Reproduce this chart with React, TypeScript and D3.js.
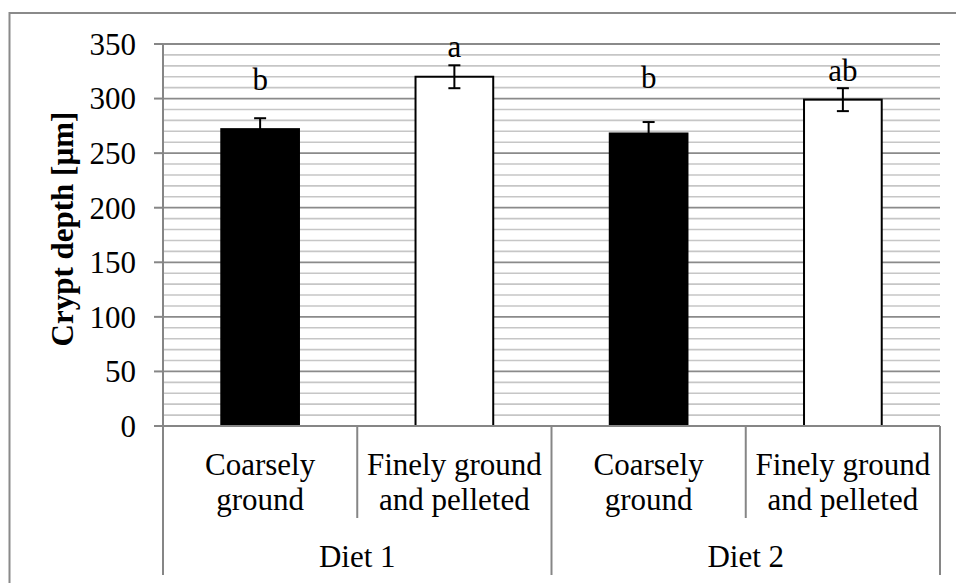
import React from "react";
import * as d3 from "d3";

const groups = ["Diet 1", "Diet 2"];
const treatmentLines = [
  ["Coarsely", "ground"],
  ["Finely ground", "and pelleted"],
  ["Coarsely", "ground"],
  ["Finely ground", "and pelleted"],
];
const categoryKeys = ["d1-coarse", "d1-fine", "d2-coarse", "d2-fine"];
const means = [272, 320, 268, 299];
const errors = [10, 10.5, 10.5, 10.5];
const letters = ["b", "a", "b", "ab"];
const letterValues = [308, 338, 310, 316];
const barFills = ["#000000", "#ffffff", "#000000", "#ffffff"];
const majorTicks = [0, 50, 100, 150, 200, 250, 300, 350];
const minorTicks = d3.range(0, 351, 10);

const W = 956;
const H = 583;
const FONT = '"Times New Roman", "Liberation Serif", Tinos, "DejaVu Serif", serif';
const FS = 31;

export default function App() {
  const left = 163;
  const right = 940;
  const top = 44;
  const bottom = 426;
  const y = d3.scaleLinear().domain([0, 350]).range([bottom, top]);
  const x = d3
    .scaleBand<string>()
    .domain(categoryKeys)
    .range([left, right])
    .paddingInner(0.6)
    .paddingOuter(0.3);
  const step = x.step();
  const gridColor = "#c6c6c6";
  const majorColor = "#8a8a8a";
  const axisColor = "#868686";
  const ts = { fontFamily: FONT, fontSize: FS } as React.CSSProperties;

  return (
    <svg
      width={W}
      height={H}
      style={{ position: "absolute", left: 0, top: 0, background: "#fff" }}
    >
      <rect x={0} y={0} width={W} height={H} fill="#fff" />
      <rect x={9.5} y={13} width={W + 20} height={H + 20} fill="none" stroke="#8a8a8a" strokeWidth={2} />
      {minorTicks
        .filter((t) => t % 50 !== 0)
        .map((t) => (
          <line key={"m" + t} x1={left} x2={right} y1={y(t)} y2={y(t)} stroke={gridColor} strokeWidth={1.6} />
        ))}
      {majorTicks
        .filter((t) => t !== 0)
        .map((t) => (
          <line key={"M" + t} x1={left} x2={right} y1={y(t)} y2={y(t)} stroke={majorColor} strokeWidth={1.8} />
        ))}
      <line x1={left} x2={left} y1={top} y2={bottom} stroke={axisColor} strokeWidth={2} />
      {majorTicks.map((t) => (
        <g key={"t" + t}>
          <line x1={left - 9} x2={left} y1={y(t)} y2={y(t)} stroke={axisColor} strokeWidth={2} />
          <text x={136} y={y(t)} dy="0.35em" textAnchor="end" style={ts} fill="#000">
            {t}
          </text>
        </g>
      ))}
      {categoryKeys.map((k, i) => {
        const bx = x(k) as number;
        const bw = x.bandwidth();
        const cx = bx + bw / 2;
        return (
          <g key={k}>
            <rect
              x={bx}
              y={y(means[i])}
              width={bw}
              height={y(0) - y(means[i])}
              fill={barFills[i]}
              stroke="#000"
              strokeWidth={2}
            />
            <line x1={cx} x2={cx} y1={y(means[i] + errors[i])} y2={y(means[i] - errors[i])} stroke="#000" strokeWidth={2} />
            <line x1={cx - 6} x2={cx + 6} y1={y(means[i] + errors[i])} y2={y(means[i] + errors[i])} stroke="#000" strokeWidth={2} />
            <line x1={cx - 6} x2={cx + 6} y1={y(means[i] - errors[i])} y2={y(means[i] - errors[i])} stroke="#000" strokeWidth={2} />
            <text x={cx} y={y(letterValues[i])} textAnchor="middle" style={ts} fill="#000">
              {letters[i]}
            </text>
          </g>
        );
      })}
      <line x1={left - 9} x2={right} y1={bottom} y2={bottom} stroke={axisColor} strokeWidth={2} />
      {d3.range(0, categoryKeys.length + 1).map((i) => {
        const lx = left + i * step;
        const full = i % 2 === 0;
        return (
          <line key={"d" + i} x1={lx} x2={lx} y1={bottom} y2={full ? 575 : 518} stroke={axisColor} strokeWidth={2} />
        );
      })}
      {categoryKeys.map((k, i) => {
        const cx = left + (i + 0.5) * step;
        return (
          <text key={"c" + k} textAnchor="middle" style={ts} fill="#000">
            {treatmentLines[i].map((ln, j) => (
              <tspan key={j} x={cx} y={475 + j * 35}>
                {ln}
              </tspan>
            ))}
          </text>
        );
      })}
      {groups.map((g, i) => (
        <text key={g} x={left + (2 * i + 1) * step} y={567} textAnchor="middle" style={ts} fill="#000">
          {g}
        </text>
      ))}
      <text
        transform={`translate(73, 229) rotate(-90)`}
        textAnchor="middle"
        style={{ ...ts, fontWeight: "bold" }}
        fill="#000"
      >
        Crypt depth [µm]
      </text>
    </svg>
  );
}
